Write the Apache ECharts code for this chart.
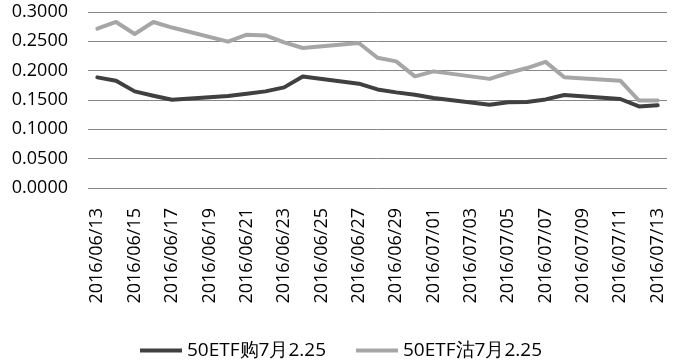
<!DOCTYPE html>
<html>
<head>
<meta charset="utf-8">
<script src="https://cdn.jsdelivr.net/npm/echarts@6/dist/echarts.min.js"></script>
<style>html,body{margin:0;padding:0;background:#fff}#c{width:674px;height:364px}</style>
</head>
<body>
<div id="c"></div>
<script>
var dates = ['2016/06/13','2016/06/14','2016/06/15','2016/06/16','2016/06/17','2016/06/18','2016/06/19','2016/06/20','2016/06/21','2016/06/22','2016/06/23','2016/06/24','2016/06/25','2016/06/26','2016/06/27','2016/06/28','2016/06/29','2016/06/30','2016/07/01','2016/07/02','2016/07/03','2016/07/04','2016/07/05','2016/07/06','2016/07/07','2016/07/08','2016/07/09','2016/07/10','2016/07/11','2016/07/12','2016/07/13'];
var seriesNames = ['50ETF购7月2.25', '50ETF沽7月2.25'];
var callValues = [0.1886,0.1829,0.1647,0.1573,0.1505,null,null,0.1570,0.1607,0.1647,0.1715,0.1902,null,null,0.1778,0.1680,0.1630,0.1590,0.1534,null,null,0.1420,0.1460,0.1466,0.1510,0.1585,null,null,0.1517,0.1390,0.1410];
var putValues  = [0.2715,0.2830,0.2625,0.2830,0.2735,null,null,0.2495,0.2613,0.2601,0.2482,0.2386,null,null,0.2472,0.2220,0.2158,0.1903,0.1988,null,null,0.1860,0.1960,0.2045,0.2150,0.1888,null,null,0.1829,0.1490,0.1490];

var chart = echarts.init(document.getElementById('c'), null, {renderer: 'canvas'});
var font = 'Open Sans';
chart.setOption({
  animation: false,
  grid: {left: 88, right: 7, top: 12, bottom: 176},
  legend: {
    top: 341, left: 140, padding: 0,
    itemWidth: 42, itemHeight: 4, itemGap: 30,
    icon: 'rect',
    textStyle: {fontFamily: font, fontSize: 19, lineHeight: 19, color: '#000'},
    data: seriesNames
  },
  xAxis: {
    type: 'category', data: dates, boundaryGap: true,
    axisLine: {show: false}, axisTick: {show: false},
    axisLabel: {interval: 1, rotate: 90, fontFamily: font, fontSize: 18, color: '#000', margin: 20}
  },
  yAxis: {
    type: 'value', min: 0, max: 0.3, interval: 0.05,
    axisLine: {show: false}, axisTick: {show: false},
    splitLine: {lineStyle: {color: '#868686', width: 1}},
    axisLabel: {fontFamily: font, fontSize: 18, color: '#000', margin: 20,
      formatter: function (v) { return v.toFixed(4); }}
  },
  series: [
    {name: seriesNames[0], type: 'line', data: callValues, connectNulls: true, symbol: 'none',
     color: '#404040', lineStyle: {width: 4, color: '#404040', cap: 'round', join: 'round'}},
    {name: seriesNames[1], type: 'line', data: putValues, connectNulls: true, symbol: 'none',
     color: '#a6a6a6', lineStyle: {width: 4, color: '#a6a6a6', cap: 'round', join: 'round'}}
  ]
});
</script>
</body>
</html>
